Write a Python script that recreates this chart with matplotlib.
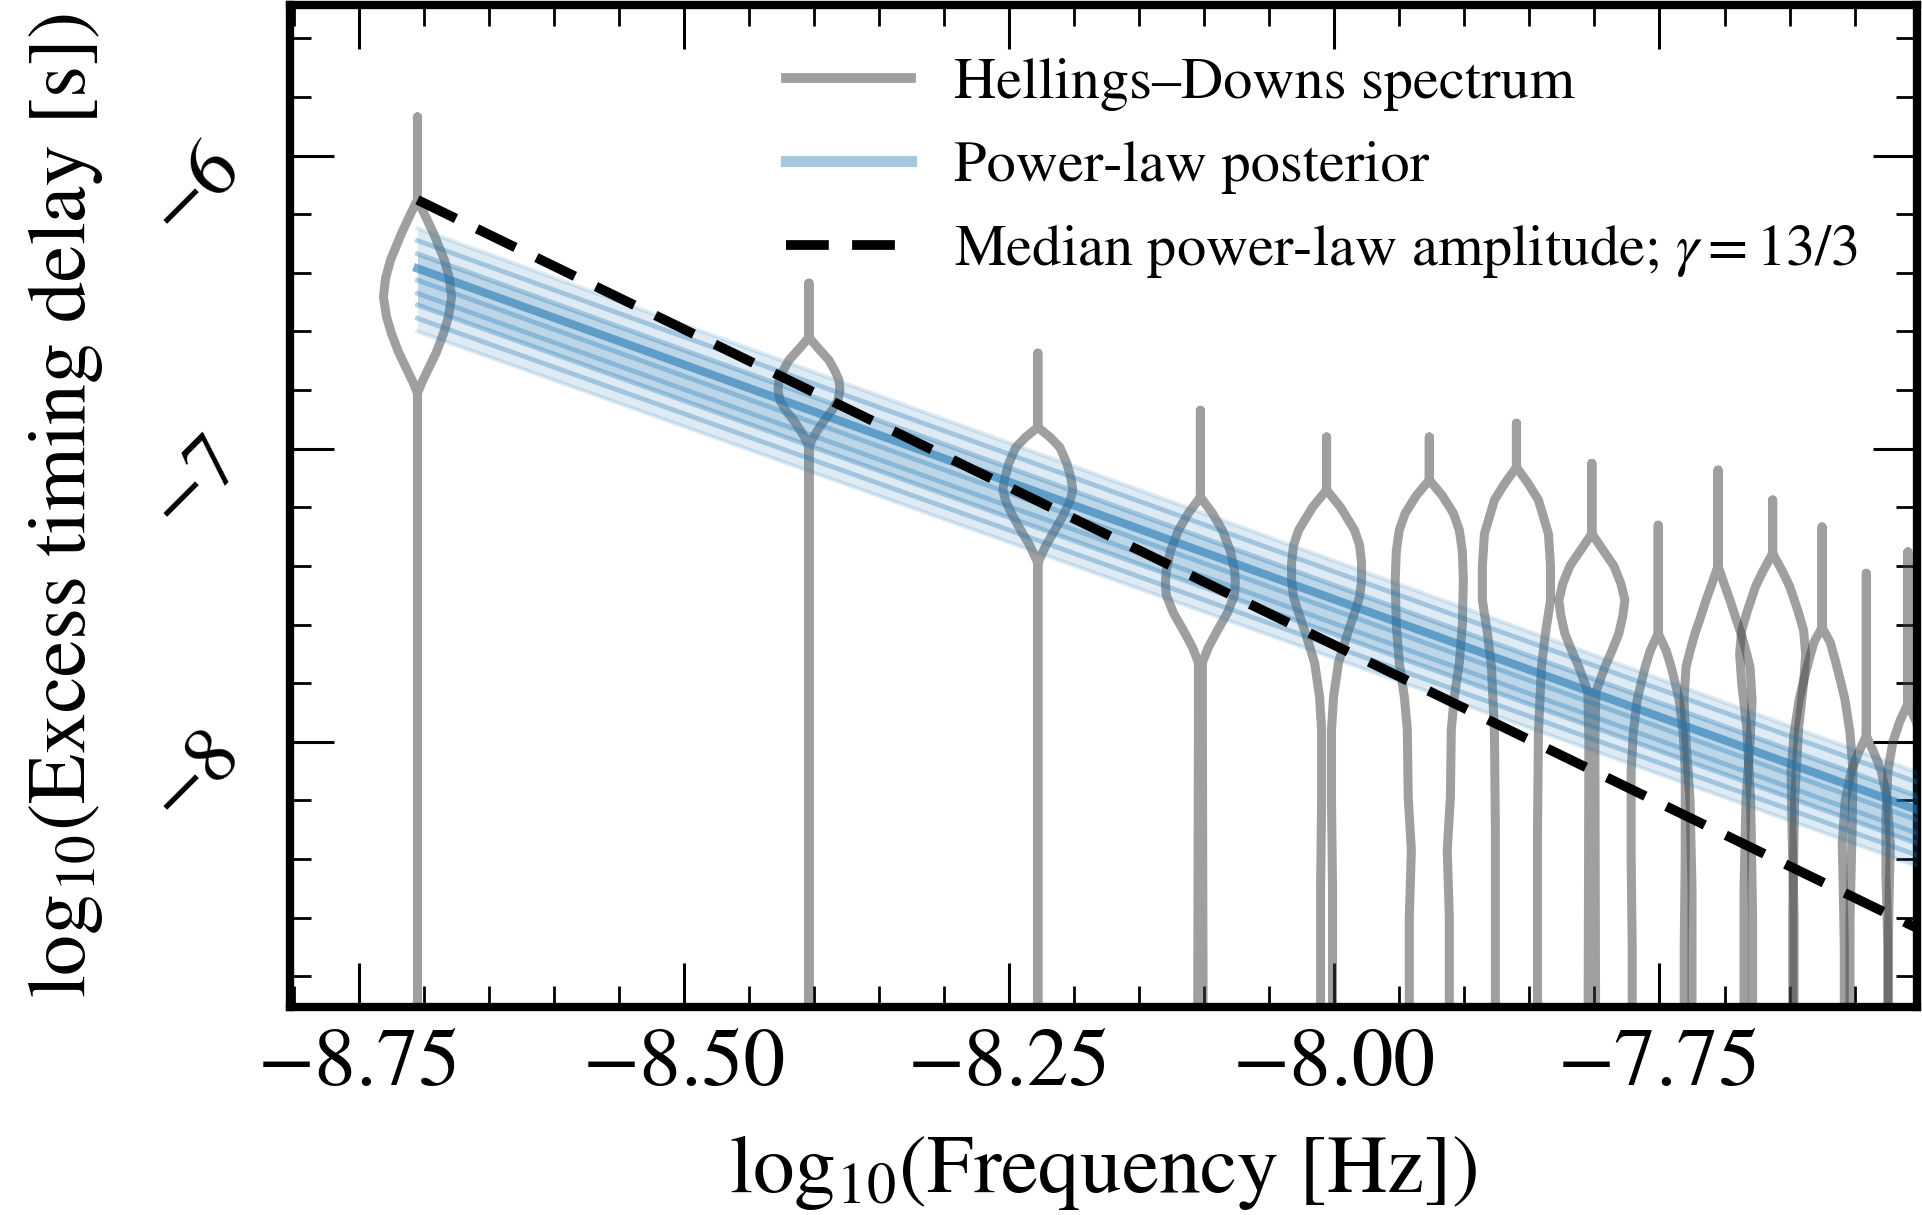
import numpy as np
import matplotlib
matplotlib.use('Agg')
import matplotlib.pyplot as plt
from matplotlib.ticker import MultipleLocator, FuncFormatter
from matplotlib.lines import Line2D

plt.rcParams['font.family'] = ['STIXGeneral', 'DejaVu Serif']
plt.rcParams['mathtext.fontset'] = 'stix'

# log10 frequency of each bin
log_freqs = [-8.705, -8.404, -8.228, -8.103, -8.006, -7.927, -7.860,
             -7.802, -7.751, -7.705, -7.663, -7.625, -7.591, -7.559]

# violin outlines: log10 delay levels (top -> bottom) and half widths in log10 Hz
violin_levels = [
    [-5.868, -6.151, -6.20, -6.265, -6.357, -6.42, -6.483, -6.55, -6.607, -6.67, -6.72, -6.77, -6.81, -9.3],
    [-6.435, -6.62, -6.66, -6.698, -6.735, -6.766, -6.80, -6.835, -6.87, -6.90, -6.94, -6.97, -6.995, -9.3],
    [-6.674, -6.927, -6.96, -6.995, -7.05, -7.10, -7.14, -7.18, -7.23, -7.278, -7.33, -7.39, -9.3],
    [-6.869, -7.165, -7.22, -7.278, -7.35, -7.414, -7.46, -7.50, -7.56, -7.62, -7.677, -7.73, -7.9, -9.3],
    [-6.96, -7.141, -7.20, -7.278, -7.33, -7.39, -7.45, -7.506, -7.56, -7.62, -7.73, -7.846, -7.96, -8.2, -8.5, -9.3],
    [-6.96, -7.107, -7.16, -7.22, -7.278, -7.35, -7.45, -7.60, -7.73, -7.846, -7.96, -8.19, -8.37, -8.6, -9.3],
    [-6.913, -7.063, -7.12, -7.175, -7.29, -7.40, -7.517, -7.63, -7.745, -7.97, -8.3, -9.3],
    [-7.05, -7.29, -7.35, -7.40, -7.46, -7.517, -7.57, -7.63, -7.69, -7.745, -7.83, -8.0, -9.3],
    [-7.261, -7.63, -7.69, -7.745, -7.80, -7.858, -7.97, -8.1, -8.4, -8.7, -9.3],
    [-7.073, -7.40, -7.46, -7.517, -7.58, -7.63, -7.69, -7.745, -7.858, -8.0, -8.2, -8.5, -9.3],
    [-7.175, -7.357, -7.42, -7.47, -7.55, -7.62, -7.70, -7.80, -7.95, -8.2, -8.6, -9.3],
    [-7.267, -7.61, -7.66, -7.72, -7.80, -7.858, -7.97, -8.1, -8.3, -8.6, -9.3],
    [-7.425, -7.98, -8.04, -8.10, -8.2, -8.35, -8.5, -8.7, -9.3],
    [-7.352, -7.87, -7.93, -8.0, -8.1, -8.25, -8.45, -8.7, -9.3],
]
violin_halfwidths = [
    [0, 0, 0.0054, 0.0123, 0.0208, 0.0246, 0.0262, 0.0238, 0.0200, 0.0146, 0.0092, 0.0038, 0, 0],
    [0, 0, 0.0077, 0.0154, 0.0200, 0.0231, 0.0238, 0.0223, 0.0177, 0.0123, 0.0062, 0.0023, 0, 0],
    [0, 0, 0.0092, 0.0169, 0.0223, 0.0254, 0.0269, 0.0246, 0.0192, 0.0131, 0.0062, 0, 0],
    [0, 0, 0.0092, 0.0169, 0.0231, 0.0262, 0.0269, 0.0262, 0.0208, 0.0131, 0.0062, 0.0015, 0.0015, 0.0023],
    [0, 0, 0.0108, 0.0215, 0.0254, 0.0269, 0.0269, 0.0254, 0.0215, 0.0169, 0.0092, 0.0054, 0.0038, 0.0038, 0.0046, 0.0046],
    [0, 0, 0.0100, 0.0185, 0.0231, 0.0254, 0.0262, 0.0254, 0.0231, 0.0192, 0.0169, 0.0162, 0.0138, 0.0154, 0.0154],
    [0, 0, 0.0092, 0.0169, 0.0246, 0.0262, 0.0262, 0.0223, 0.0192, 0.0169, 0.0162, 0.0162],
    [0, 0, 0.0092, 0.0169, 0.0223, 0.0254, 0.0238, 0.0208, 0.0154, 0.0100, 0.0031, 0.0023, 0.0031],
    [0, 0, 0.0062, 0.0100, 0.0131, 0.0162, 0.0192, 0.0208, 0.0208, 0.0200, 0.0200],
    [0, 0, 0.0046, 0.0092, 0.0138, 0.0177, 0.0215, 0.0246, 0.0262, 0.0246, 0.0215, 0.0200, 0.0200],
    [0, 0, 0.0077, 0.0131, 0.0192, 0.0238, 0.0254, 0.0238, 0.0200, 0.0169, 0.0154, 0.0154],
    [0, 0, 0.0062, 0.0100, 0.0146, 0.0177, 0.0215, 0.0238, 0.0231, 0.0215, 0.0215],
    [0, 0, 0.0062, 0.0115, 0.0162, 0.0185, 0.0177, 0.0169, 0.0169],
    [0, 0, 0.0062, 0.0115, 0.0154, 0.0169, 0.0169, 0.0154, 0.0154],
]

# power-law posterior draws, given by their value at both ends
band_x = [-8.705, -7.55]
band_left = [-6.248, -6.29, -6.335, -6.385, -6.425, -6.47, -6.51, -6.555, -6.60]
band_right = [-8.107, -8.141, -8.188, -8.235, -8.27, -8.315, -8.35, -8.39, -8.427]

# median power law, gamma = 13/3
median_x = [-8.705, -7.55]
median_y = [-6.151, -8.64]

grey = '#404040'
blue = '#1f77b4'

fig = plt.figure(figsize=(19.22, 12.15), dpi=100, facecolor='white')
ax = fig.add_axes([0.1509, 0.1712, 0.8465, 0.8247])

for x0, lev, hw in zip(log_freqs, violin_levels, violin_halfwidths):
    lev = np.array(lev)[::-1]
    hw = np.array(hw)[::-1]
    xs = np.concatenate([x0 - hw, (x0 + hw)[::-1]])
    ys = np.concatenate([lev, lev[::-1]])
    ax.plot(xs, ys, color=grey, alpha=0.5, lw=6.5, solid_joinstyle='round',
            solid_capstyle='round', zorder=2)

# posterior band
ax.fill_between(band_x, [band_left[0], band_right[0]], [band_left[-1], band_right[-1]],
                color=blue, alpha=0.14, lw=0, zorder=3)
ax.fill_between(band_x, [band_left[2], band_right[2]], [band_left[-3], band_right[-3]],
                color=blue, alpha=0.18, lw=0, zorder=3)
for i, (yl, yr) in enumerate(zip(band_left, band_right)):
    if i == 3:
        a, w = 0.6, 6
    elif i in (0, len(band_left) - 1):
        a, w = 0.15, 3
    else:
        a, w = 0.32, 3.5
    ax.plot(band_x, [yl, yr], color=blue, alpha=a, lw=w, zorder=3)

ax.plot(median_x, median_y, color='k', lw=7, dashes=(4.4, 2.4),
        dash_capstyle='butt', zorder=4)

ax.set_xlim(-8.803, -7.552)
ax.set_ylim(-8.905, -5.486)

ax.xaxis.set_major_locator(MultipleLocator(0.25))
ax.xaxis.set_minor_locator(MultipleLocator(0.05))
ax.xaxis.set_major_formatter(FuncFormatter(lambda v, p: f'{v:.2f}'.replace('-', '\u2212')))
ax.yaxis.set_major_locator(MultipleLocator(1))
ax.yaxis.set_minor_locator(MultipleLocator(0.2))
ax.yaxis.set_major_formatter(FuncFormatter(lambda v, p: f'{v:.0f}'.replace('-', '\u2212')))

ax.tick_params(which='both', direction='in', top=True, right=True, colors='k')
ax.tick_params(which='major', length=32, width=2.2)
ax.tick_params(which='minor', length=15, width=2.0)
ax.tick_params(axis='x', which='major', labelsize=60, pad=16)
ax.tick_params(axis='y', which='major', labelsize=58, pad=44)
for lab in ax.get_yticklabels():
    lab.set_rotation(45)
    lab.set_rotation_mode('anchor')
    lab.set_ha('right')
    lab.set_va('center')

for sp in ax.spines.values():
    sp.set_linewidth(6)

ax.set_xlabel(r'$\mathrm{log}_{10}(\mathrm{Frequency\ [Hz]})$', fontsize=60)
ax.set_ylabel(r'$\mathrm{log}_{10}(\mathrm{Excess\ timing\ delay\ [s]})$', fontsize=59)
ax.xaxis.set_label_coords(0.5, -0.126)
ax.yaxis.set_label_coords(-0.114, 0.5)

handles = [
    Line2D([], [], color=grey, alpha=0.5, lw=7),
    Line2D([], [], color=blue, alpha=0.4, lw=8),
    Line2D([], [], color='k', lw=7, dashes=(4.4, 2.4), dash_capstyle='butt'),
]
labels = ['Hellings\u2013Downs spectrum', 'Power-law posterior',
          r'Median power-law amplitude; $\gamma = 13/3$']
ax.legend(handles, labels, loc='upper left', bbox_to_anchor=(0.305, 0.948),
          frameon=False, fontsize=42, borderpad=0, borderaxespad=0,
          handlelength=2.13, handletextpad=0.74, labelspacing=0.5)

fig.savefig('out.png', dpi=100, facecolor='white')
